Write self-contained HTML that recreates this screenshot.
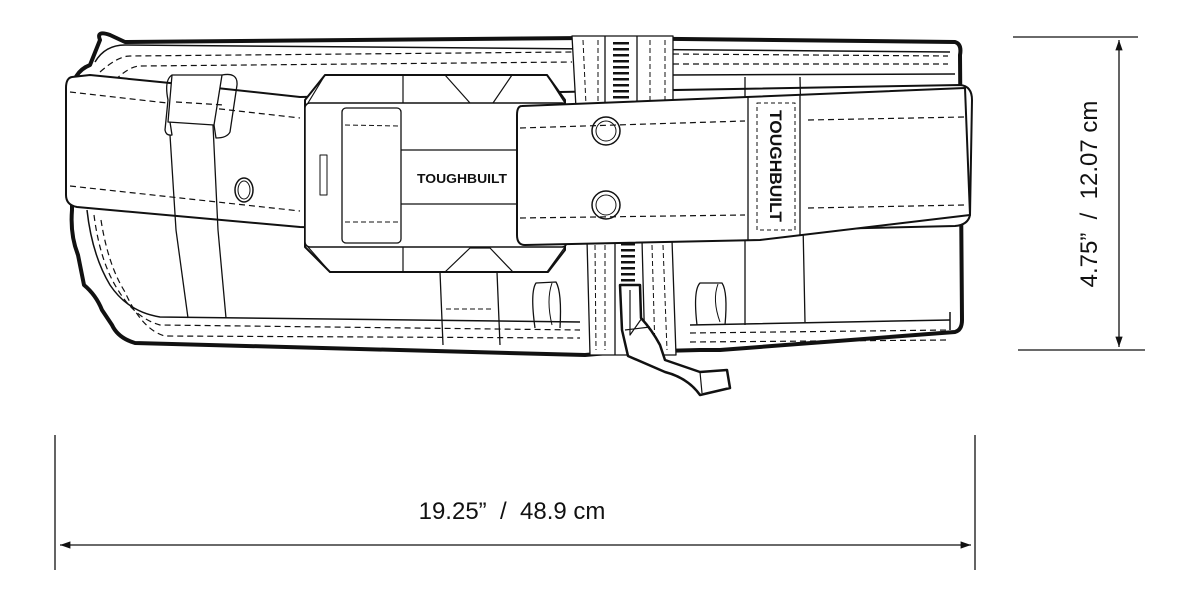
<!DOCTYPE html>
<html><head><meta charset="utf-8"><style>
html,body{margin:0;padding:0;background:#fff;}
svg{display:block}
text{font-family:"Liberation Sans",sans-serif;}
</style></head><body>
<svg width="1200" height="596" viewBox="0 0 1200 596" xmlns="http://www.w3.org/2000/svg">
<defs>
<marker id="ah" viewBox="0 0 10 10" refX="10" refY="5" markerWidth="8" markerHeight="8" orient="auto-start-reverse"><path d="M0,1.5 L10,5 L0,8.5 z" fill="#111"/></marker>
</defs>
<g fill="none" stroke="#111" stroke-linejoin="round">
<!-- back belt outer heavy outline -->
<path d="M100,40 Q96,30 110,35 L125,42 L585,38 L955,42 Q962,44 960,55 L962,320 Q962,330 955,332 L720,350 L700,350 L620,352 L585,355 L135,343 Q118,338 112,325 L102,310 Q96,295 84,285 L78,255 Q70,235 72,210 L72,95 Q72,72 90,65 Z" stroke-width="4" fill="#fff"/>
<!-- top band -->
<path d="M95,62 Q105,45 125,45 L950,52" stroke-width="1.5"/>
<path d="M100,72 Q118,56 130,56 L572,52 M673,54 L948,56" stroke-width="1.2" stroke-dasharray="6,4"/>
<path d="M115,80 Q130,66 140,66 L572,62 M673,64 L948,64" stroke-width="1.2" stroke-dasharray="6,4"/>
<path d="M673,75 L955,74" stroke-width="1.5"/>
<!-- lower band -->
<path d="M87,210 Q92,255 110,285 Q128,312 160,317 L580,322 M690,325 L950,320" stroke-width="1.5"/>
<path d="M94,215 Q100,262 118,290 Q135,318 160,325 L580,330 M690,333 L950,330" stroke-width="1.2" stroke-dasharray="6,4"/>
<path d="M101,220 Q108,265 125,292 Q142,330 165,336 L580,338 M690,342 L950,340" stroke-width="1.2" stroke-dasharray="6,4"/>
<path d="M950,312 L950,330" stroke-width="1.5"/>
<!-- front pad -->
<path d="M72,77 L90,75 L170,83 L300,97 L560,92 L960,85 Q972,86 972,100 L970,215 Q968,225 955,226 L560,235 L300,227 L77,207 Q66,205 66,195 L66,88 Q66,78 72,77 Z" stroke-width="2" fill="#fff"/>
<path d="M70,92 L300,118" stroke-width="1.2" stroke-dasharray="6,4"/>
<path d="M70,186 L300,211" stroke-width="1.2" stroke-dasharray="6,4"/>
<path d="M805,120 L965,118 M805,205 L965,205" stroke-width="1.2" stroke-dasharray="6,4"/>
<!-- left strap -->
<path d="M170,135 L176,230 L188,318 M213,125 L218,230 L226,318" stroke-width="1.3"/>
<path d="M172,75 L222,75 L214,125 L168,122 Z" stroke-width="1.3" fill="#fff"/>
<path d="M172,75 Q164,80 168,100 L165,130 Q166,136 172,135 L170,122" stroke-width="1.3"/>
<path d="M222,75 Q238,72 237,85 L230,132 Q227,138 216,138 L214,125" stroke-width="1.3"/>
<path d="M176,102 L224,105" stroke-width="1.2" stroke-dasharray="6,4"/>
<ellipse cx="244" cy="190" rx="9" ry="12" stroke-width="1.5"/>
<ellipse cx="244" cy="190" rx="6" ry="9" stroke-width="1"/>
<!-- upper vertical strap -->
<path d="M572,36 L673,36 L673,103 L576,108 Z" stroke-width="1.3" fill="#fff"/>
<path d="M605,36 L605,106 M637,36 L637,104" stroke-width="1.3"/>
<path d="M583,40 L586,105 M598,40 L598,105 M650,40 L650,103 M665,40 L665,103" stroke-width="1" stroke-dasharray="5,3"/>
<path d="M621,42 L621,102" stroke-width="16" stroke-dasharray="2.5,3.5"/>
<!-- lower vertical strap -->
<path d="M587,240 L672,240 L676,355 L590,355 Z" stroke-width="1.3" fill="#fff"/>
<path d="M615,240 L615,355 M642,240 L645,355" stroke-width="1.3"/>
<path d="M595,245 L596,350 M605,245 L605,350 M652,245 L655,350 M663,245 L667,350" stroke-width="1" stroke-dasharray="5,3"/>
<path d="M628,243 L628,282" stroke-width="14" stroke-dasharray="2.5,3.5"/>
<!-- right vertical strap -->
<path d="M745,77 L745,325 M800,77 L805,322" stroke-width="1.3"/>
<!-- center clip -->
<path d="M325,75 L547,75 L565,100 L565,250 L548,272 L330,272 L305,247 L305,100 Z" stroke-width="2" fill="#fff"/>
<path d="M403,75 L403,103 M403,247 L403,272" stroke-width="1.2"/>
<path d="M445,75 L470,103 M493,103 L512,75 M445,272 L470,248 L490,248 L513,272" stroke-width="1.2"/>
<path d="M308,103 L325,75 M308,247 L330,272 M547,75 L565,103 M547,272 L565,247" stroke-width="1.2"/>
<rect x="305" y="103" width="262" height="144" rx="5" stroke-width="1.5" fill="#fff"/>
<rect x="342" y="108" width="59" height="135" rx="4" stroke-width="1.3"/>
<path d="M401,150 L517,150 M401,204 L517,204" stroke-width="1.2"/>
<rect x="320" y="155" width="7" height="40" stroke-width="1"/>
<path d="M345,125 L400,126 M345,222 L400,222" stroke-width="1" stroke-dasharray="5,3"/>
<!-- lower strap under clip -->
<path d="M440,272 L443,345 M497,272 L500,345" stroke-width="1.3"/>
<path d="M446,309 L494,309" stroke-width="1" stroke-dasharray="5,3"/>
<!-- tool loops -->
<path d="M535,328 Q530,292 536,283 L556,282 Q562,292 560,328" stroke-width="1.3"/>
<path d="M552,283 Q546,300 552,325" stroke-width="1"/>
<path d="M697,325 Q693,290 700,283 L722,283 Q728,292 725,325" stroke-width="1.3"/>
<path d="M718,284 Q712,300 720,322" stroke-width="1"/>
<!-- tongue plate -->
<path d="M522,106 L747,97 L965,88 L970,215 L760,240 L525,245 Q517,245 517,235 L517,115 Q517,106 522,106 Z" stroke-width="2" fill="#fff"/>
<path d="M520,128 L745,121 M520,218 L745,215" stroke-width="1.2" stroke-dasharray="6,4"/>
<path d="M808,120 L965,117 M808,208 L965,205" stroke-width="1.2" stroke-dasharray="6,4"/>
<path d="M748,97 L748,240 M800,95 L800,235" stroke-width="1.3"/>
<rect x="757" y="103" width="38" height="127" stroke-width="1" stroke-dasharray="4,3" fill="#fff"/>
<circle cx="606" cy="131" r="14" stroke-width="1.5"/><circle cx="606" cy="131" r="10" stroke-width="1"/>
<circle cx="606" cy="205" r="14" stroke-width="1.5"/><circle cx="606" cy="205" r="10" stroke-width="1"/>
<!-- hook -->
<path d="M620,285 L640,285 L641,318 Q652,330 660,345 L665,360 L700,372 L727,370 L730,388 L700,395 Q688,378 665,372 L628,356 L622,330 Z" stroke-width="2.5" fill="#fff"/>
<path d="M630,290 L630,335 L642,318 M625,330 L650,327 M700,372 L702,393" stroke-width="1.2"/>
</g>
<text x="462" y="183" font-size="13" font-weight="bold" text-anchor="middle" fill="#111" textLength="90" lengthAdjust="spacingAndGlyphs">TOUGHBUILT</text>
<text transform="translate(770,166) rotate(90)" font-size="17" font-weight="bold" text-anchor="middle" fill="#111" textLength="112" lengthAdjust="spacingAndGlyphs">TOUGHBUILT</text>
<!-- dimensions -->
<g stroke="#111" stroke-width="1.3" fill="none">
<path d="M55,435 L55,570 M975,435 L975,570"/>
<path d="M60,545 L971,545" marker-start="url(#ah)" marker-end="url(#ah)"/>
<path d="M1013,37 L1138,37 M1018,350 L1145,350"/>
<path d="M1119,40 L1119,347" marker-start="url(#ah)" marker-end="url(#ah)"/>
</g>
<text x="512" y="519" font-size="24" text-anchor="middle" fill="#111" xml:space="preserve">19.25”  /  48.9 cm</text>
<text transform="translate(1097,194) rotate(-90)" font-size="24" text-anchor="middle" fill="#111" xml:space="preserve">4.75”  /  12.07 cm</text>
</svg>
</body></html>
